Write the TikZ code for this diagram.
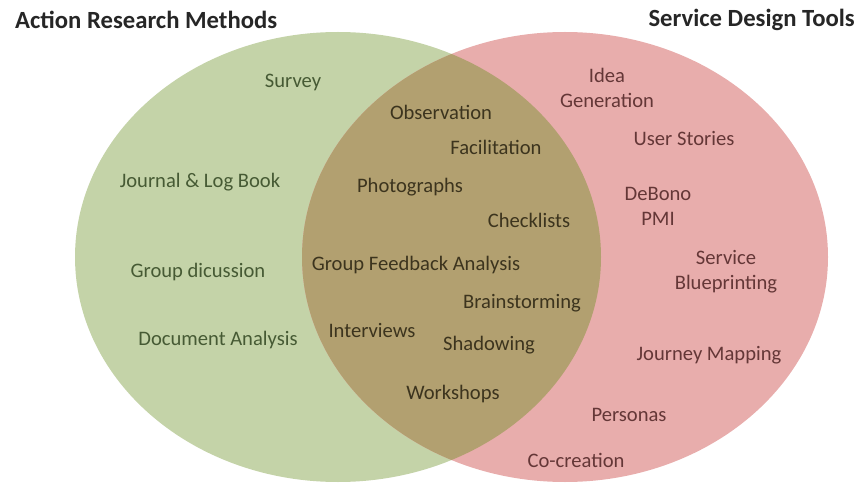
\documentclass[tikz,border=0pt]{standalone}
\usepackage{fontspec}
\setmainfont{Carlito}
\usepackage{xcolor}
\usepackage{tikz}

\definecolor{armfill}{RGB}{196,211,168}
\definecolor{sdtfill}{RGB}{232,173,172}
\definecolor{bothfill}{RGB}{178,160,112}
\definecolor{armtext}{RGB}{70,90,52}
\definecolor{sdttext}{RGB}{100,55,55}
\definecolor{bothtext}{RGB}{60,52,30}

\begin{document}
\begin{tikzpicture}[
			x=1pt, y=-1pt,
			title/.style={font=\fontsize{24.7}{28}\selectfont\bfseries, text=black!85, inner sep=0pt},
			item/.style={font=\fontsize{20.6}{25}\selectfont, align=center, inner sep=1pt},
			arm/.style={item, text=armtext},
			sdt/.style={item, text=sdttext},
			both/.style={item, text=bothtext}
			]
			\useasboundingbox (0,0) rectangle (868,484);
			
			% the two sets and their overlap
			\fill[armfill] (338,257) ellipse [x radius=263pt, y radius=225pt];
			\fill[sdtfill] (565,257) ellipse [x radius=263pt, y radius=225pt];
			\begin{scope}
				\clip (338,257) ellipse [x radius=263pt, y radius=225pt];
				\fill[bothfill] (565,257) ellipse [x radius=263pt, y radius=225pt];
			\end{scope}
			
			\node[title, anchor=west] (armtitle) at (15,20) {Action Research Methods};
			\node[title, anchor=east] (sdttitle) at (855,20) {Service Design Tools};
			
			% action research only
			\node[arm] (survey) at (293,82) {Survey};
			\node[arm] (journal) at (200,182) {Journal \& Log Book};
			\node[arm] (groupdisc) at (198,272) {Group dicussion};
			\node[arm] (docanalysis) at (218,340) {Document Analysis};
			
			% shared
			\node[both] (observation) at (441,112) {Observation};
			\node[both] (facilitation) at (496,147) {Facilitation};
			\node[both] (photographs) at (410,187) {Photographs};
			\node[both] (checklists) at (529,220) {Checklists};
			\node[both] (feedback) at (416,265) {Group Feedback Analysis};
			\node[both] (brainstorming) at (522,303) {Brainstorming};
			\node[both] (interviews) at (372,330) {Interviews};
			\node[both] (shadowing) at (489,345) {Shadowing};
			\node[both] (workshops) at (453,394) {Workshops};
			
			% service design only
			\node[sdt] (idea) at (607,88) {Idea\\Generation};
			\node[sdt] (stories) at (684,138) {User Stories};
			\node[sdt] (debono) at (658,206) {DeBono\\PMI};
			\node[sdt] (blueprint) at (726,272) {Service\\Blueprinting};
			\node[sdt] (journey) at (709,355) {Journey Mapping};
			\node[sdt] (personas) at (629,415) {Personas};
			\node[sdt] (cocreation) at (576,460) {Co-creation};
		\end{tikzpicture}
\end{document}
